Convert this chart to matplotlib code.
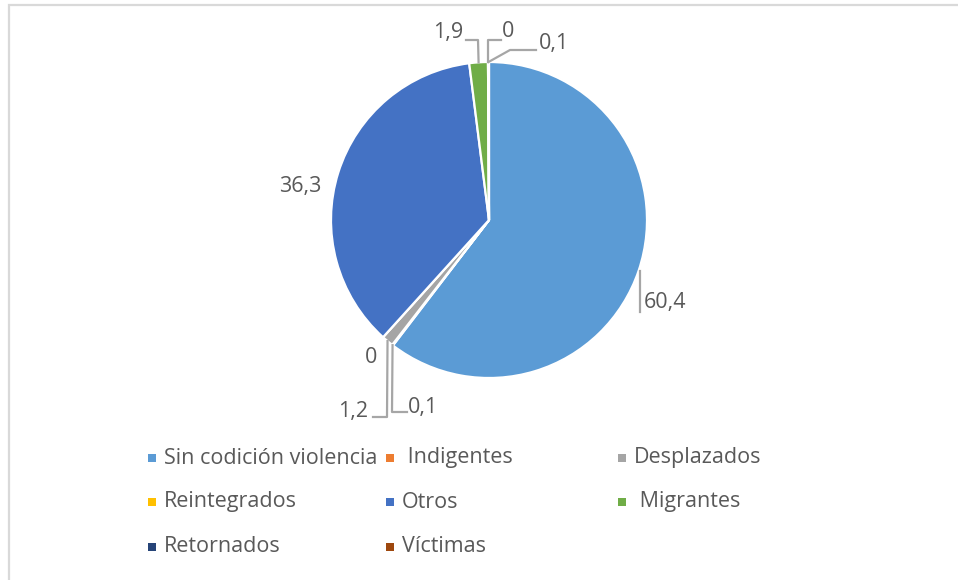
import matplotlib.pyplot as plt
import numpy as np
from matplotlib.patches import Rectangle
from matplotlib.lines import Line2D

# categories / values (percent)
categories = ["Sin codición violencia", " Indigentes", "Desplazados",
              "Reintegrados", "Otros", " Migrantes", "Retornados", "Víctimas"]
values = [60.4, 0.1, 1.2, 0.0, 36.3, 1.9, 0.0, 0.1]
value_labels = ["60,4", "0,1", "1,2", "0", "36,3", "1,9", "0", "0,1"]
colors = ["#5B9BD5", "#ED7D31", "#A5A5A5", "#FFC000",
          "#4472C4", "#70AD47", "#264478", "#9E480E"]

W, H = 958, 580
CX, CY, R = 489, 220, 158          # pie centre / radius in pixels
TXT = "#595959"
LEAD = "#A6A6A6"
FONT = "Open Sans"
FS = 15.5

fig = plt.figure(figsize=(W / 100, H / 100), dpi=100)
fig.patch.set_facecolor("white")

# light chart-area frame (only left/top visible in the crop)
fig.add_artist(Rectangle((9 / W, -0.1), 1.2, (H - 5) / H + 0.1,
                         transform=fig.transFigure, fill=False,
                         edgecolor="#D9D9D9", lw=1.6))

ax = fig.add_axes([(CX - R) / W, (H - CY - R) / H, 2 * R / W, 2 * R / H])
wedges, _ = ax.pie(values, colors=colors, startangle=90, counterclock=False,
                   radius=1.0,
                   wedgeprops=dict(edgecolor="white", linewidth=1.6))
ax.set_xlim(-1, 1)
ax.set_ylim(-1, 1)
ax.set_aspect("equal")
ax.axis("off")


def d(px, py):
    """pixel -> pie data coords"""
    return (px - CX) / R, (CY - py) / R


def anchor(w):
    t = np.radians((w.theta1 + w.theta2) / 2)
    return np.cos(t), np.sin(t)


# label placement (pixels): text pos, ha, leader elbow points (None = no leader)
label_layout = [
    ((644, 302), "left",   [(640, 312)]),
    ((408, 408), "left",   [(392, 412), (407, 412)]),
    ((368, 411), "right",  [(387, 417), (373, 417)]),
    ((371, 357), "center", None),
    ((300, 186), "center", None),
    ((463, 32),  "right",  [(478, 40), (466, 40)]),
    ((502, 31),  "left",   [(488, 40), (501, 40)]),
    ((539, 43),  "left",   [(510, 50), (536, 50)]),
]

for w, lab, (tpos, ha, pts) in zip(wedges, value_labels, label_layout):
    if pts is not None:
        a = anchor(w)
        if lab == "60,4":
            # vertical leader hugging the wedge edge
            x0 = d(pts[0][0], 0)[0]
            xs, ys = [x0, x0], [a[1], d(0, pts[0][1])[1]]
        else:
            xs = [a[0]] + [d(*p)[0] for p in pts]
            ys = [a[1]] + [d(*p)[1] for p in pts]
        ax.add_line(Line2D(xs, ys, color=LEAD, lw=1.6, clip_on=False))
    tx, ty = d(*tpos)
    ax.text(tx, ty, lab, ha=ha, va="center", fontsize=FS,
            color=TXT, family=FONT, clip_on=False)

# legend laid out like the Excel one (row-wise, 3 fixed columns)
col_x = [152, 390, 622]
row_y = [458, 502, 547]
for i, (name, c) in enumerate(zip(categories, colors)):
    x = col_x[i % 3]
    y = row_y[i // 3]
    fig.add_artist(Rectangle(((x - 4) / W, (H - y - 4) / H), 8 / W, 8 / H,
                             transform=fig.transFigure, facecolor=c,
                             edgecolor="none"))
    fig.text((x + 12) / W, (H - y) / H, name, ha="left", va="center",
             fontsize=FS, color=TXT, family=FONT)

fig.savefig("out.png", dpi=100)
